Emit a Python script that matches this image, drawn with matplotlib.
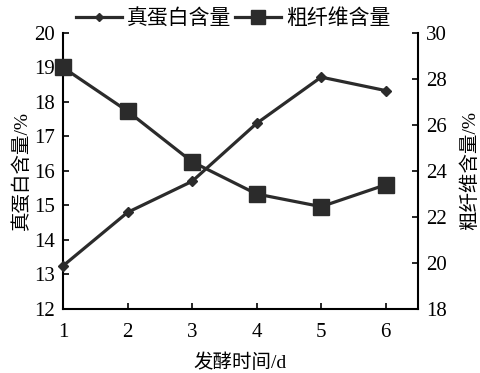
import matplotlib.pyplot as plt

plt.rcParams['font.family'] = ['Liberation Serif', 'Noto Sans CJK SC']
plt.rcParams['axes.unicode_minus'] = False

days = [1, 2, 3, 4, 5, 6]
protein = [13.25, 14.8, 15.7, 17.38, 18.72, 18.33]
fiber = [28.5, 26.6, 24.4, 23.0, 22.45, 23.4]

color = '#2b2b2b'

fig = plt.figure(figsize=(4.81, 3.73), dpi=100)
ax = fig.add_axes([0.131, 0.1716, 0.738, 0.74])
ax2 = ax.twinx()

l1, = ax.plot(days, protein, '-D', color=color, lw=2.3, ms=5, label='真蛋白含量', clip_on=False, zorder=3)
l2, = ax2.plot(days, fiber, '-s', color=color, lw=2.3, ms=11, label='粗纤维含量', clip_on=False, zorder=3)

ax.set_xlim(1, 6.5)
ax.set_ylim(12, 20)
ax2.set_ylim(18, 30)
ax.set_xticks(days)
ax.set_yticks(range(12, 21))
ax2.set_yticks(range(18, 31, 2))

for a in (ax, ax2):
    a.spines['top'].set_visible(False)
    for s in a.spines.values():
        s.set_linewidth(1.5)
        s.set_color('black')
ax.spines['right'].set_visible(False)
ax2.spines['left'].set_visible(False)
ax2.spines['bottom'].set_visible(False)

ax.tick_params(direction='in', length=4, width=1.2, labelsize=15, pad=6)
ax.tick_params(axis='x', pad=10)
ax2.tick_params(direction='in', length=4, width=1.2, labelsize=15, pad=6)

ax.set_xlabel('发酵时间/d', fontsize=14, labelpad=8)
ax.set_ylabel('真蛋白含量/%', fontsize=14, labelpad=2)
ax2.set_ylabel('粗纤维含量/%', fontsize=14, labelpad=10)

fig.legend(handles=[l1, l2], loc='upper center', bbox_to_anchor=(0.485, 1.025), ncol=2,
           frameon=False, fontsize=15, handlelength=2.2, columnspacing=0.2, handletextpad=0.25,
           markerscale=0.9)

fig.savefig('out.png', dpi=100)
